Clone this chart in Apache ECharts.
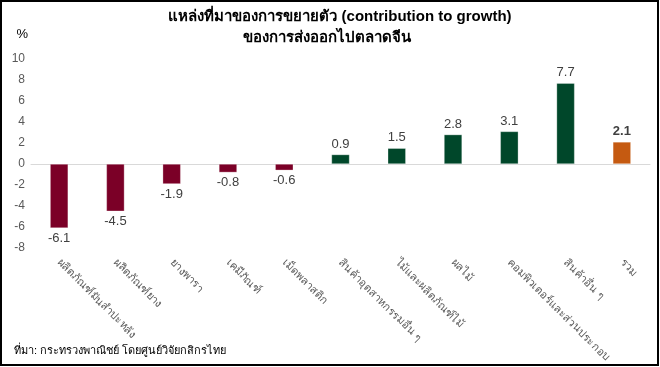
<!DOCTYPE html>
<html><head><meta charset="utf-8">
<script src="https://cdn.jsdelivr.net/npm/echarts@6/dist/echarts.min.js"></script>
<style>html,body{margin:0;padding:0;background:#fff}#c{width:660px;height:367px}</style>
</head><body><div id="c"></div>
<script>
const categories = ["ผลิตภัณฑ์มันสำปะหลัง","ผลิตภัณฑ์ยาง","ยางพารา","เคมีภัณฑ์","เม็ดพลาสติก","สินค้าอุตสาหกรรมอื่น ๆ","ไม้และผลิตภัณฑ์ไม้","ผลไม้","คอมพิวเตอร์และส่วนประกอบ","สินค้าอื่น ๆ","รวม"];
const values = [-6.1,-4.5,-1.9,-0.8,-0.6,0.9,1.5,2.8,3.1,7.7,2.1];
const totalIndex = 10;
const yTicks = {min:-8,max:10,interval:2};
const titleLine1 = "แหล่งที่มาของการขยายตัว (contribution to growth)";
const titleLine2 = "ของการส่งออกไปตลาดจีน";
const sourceText = "ที่มา: กระทรวงพาณิชย์ โดยศูนย์วิจัยกสิกรไทย";

const FONT = "'Liberation Sans', Arial, 'Noto Sans', sans-serif";
const chart = echarts.init(document.getElementById('c'));
const data = values.map((v,i)=>{
  let color = i===totalIndex ? '#C55A11' : (v<0 ? '#7B0027' : '#00472A');
  return {
    value:v,
    itemStyle:{color:color,borderColor:'rgba(255,255,255,0.6)',borderWidth:0.5},
    label:{position: v<0?'bottom':'top', fontWeight: i===totalIndex?'bold':'normal'}
  };
});
chart.setOption({
  animation:false,
  textStyle:{fontFamily:FONT},
  grid:{left:31,right:10,top:59,bottom:119,containLabel:false},
  xAxis:{type:'category',data:categories,
    axisLine:{onZero:true,lineStyle:{color:'#D9D9D9',width:1}},
    axisTick:{show:false},
    axisLabel:{rotate:-45,interval:0,fontSize:11,color:'#595959',margin:13,fontFamily:FONT}},
  yAxis:{type:'value',min:yTicks.min,max:yTicks.max,interval:yTicks.interval,
    name:'%',nameLocation:'end',nameGap:18,nameTextStyle:{color:'#000',fontSize:13,align:'right',padding:[0,3,0,0]},
    axisLine:{show:false},axisTick:{show:false},splitLine:{show:false},
    axisLabel:{fontSize:12,color:'#595959',margin:6}},
  series:[{type:'bar',data:data,barWidth:18,
    label:{show:true,fontSize:13,color:'#404040',formatter:p=>p.value.toFixed(1),distance:4}}],
  graphic:[
    {type:'rect',shape:{x:1,y:1,width:657,height:364},style:{fill:'none',stroke:'#000',lineWidth:2},silent:true},
    {type:'text',x:340,y:17,style:{text:titleLine1,fontSize:15,fontWeight:'bold',fill:'#000',fontFamily:FONT,textAlign:'center',textVerticalAlign:'middle'}},
    {type:'text',x:327,y:38,style:{text:titleLine2,fontSize:15,fontWeight:'bold',fill:'#000',fontFamily:FONT,textAlign:'center',textVerticalAlign:'middle'}},
    {type:'text',left:14,top:345,style:{text:sourceText,fontSize:11,fill:'#000',fontFamily:FONT}}
  ]
});
</script></body></html>
